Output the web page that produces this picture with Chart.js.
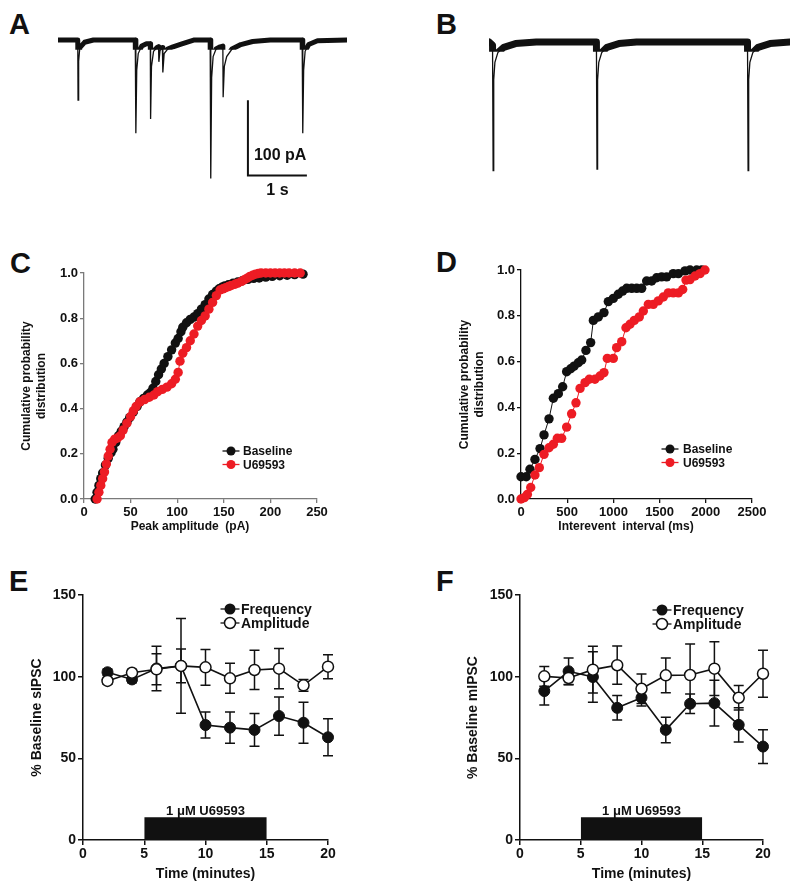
<!DOCTYPE html>
<html>
<head>
<meta charset="utf-8">
<script src="https://cdn.jsdelivr.net/npm/chart.js@4.4.0/dist/chart.umd.min.js"></script>
<style>
  body { margin: 0; width: 800px; height: 892px; background: #fff; position: relative; overflow: hidden; }
  .box { position: absolute; }
  .lbl { position: absolute; font-family: Arial, "Liberation Sans", sans-serif; font-weight: bold; font-size: 29px; line-height: 1; color: #111; }
</style>
</head>
<body>
<div class="lbl" style="left:9px;top:10px">A</div>
<div class="lbl" style="left:436px;top:10px">B</div>
<div class="lbl" style="left:10px;top:249px">C</div>
<div class="lbl" style="left:436px;top:248px">D</div>
<div class="lbl" style="left:9px;top:567px">E</div>
<div class="lbl" style="left:436px;top:567px">F</div>

<div class="box" style="left:58px;top:25px;width:289px;height:188px"><canvas id="chA"></canvas></div>
<div class="box" style="left:489px;top:27px;width:301px;height:188px"><canvas id="chB"></canvas></div>
<div class="box" style="left:0px;top:240px;width:340px;height:300px"><canvas id="chC"></canvas></div>
<div class="box" style="left:400px;top:240px;width:380px;height:300px"><canvas id="chD"></canvas></div>
<div class="box" style="left:0px;top:565px;width:360px;height:327px"><canvas id="chE"></canvas></div>
<div class="box" style="left:400px;top:565px;width:380px;height:327px"><canvas id="chF"></canvas></div>

<script>
const FONT = 'Arial, "Liberation Sans", sans-serif';
const RED = '#ed1c24';

// A: sIPSC trace, baseline (time s, current pA)
const traceAt = [0, 0.335, 0.34, 0.35, 0.37, 0.45, 0.6, 1.31, 1.32, 1.335, 1.36, 1.42, 1.5, 1.565, 1.57, 1.585, 1.62, 1.68, 1.705, 1.71, 1.73, 1.77, 1.775, 1.78, 1.8, 1.86, 1.95, 2.1, 2.3, 2.58, 2.59, 2.605, 2.63, 2.68, 2.75, 2.795, 2.8, 2.82, 2.86, 2.95, 3.1, 3.3, 3.6, 4.14, 4.15, 4.165, 4.19, 4.25, 4.4, 4.9];
const traceAi = [0, 0, -80, -28, -10, -3, 0, 0, -124, -40, -18, -8, -5, -5, -105, -35, -15, -10, -9, -29, -14, -10, -10, -43, -18, -12, -9, -5, 0, 0, -184, -50, -22, -12, -9, -8, -76, -35, -22, -12, -6, -2, 0, 0, -124, -40, -15, -6, -1, 0];
// B: trace after U69593
const traceBt = [0, 0.06, 0.07, 0.08, 0.1, 0.15, 0.25, 0.45, 0.8, 1.82, 1.83, 1.84, 1.86, 1.91, 2.0, 2.2, 2.5, 4.38, 4.39, 4.4, 4.42, 4.47, 4.56, 4.76, 5.1];
const traceBi = [0, -4, -171, -50, -27, -14, -7, -2, 0, 0, -169, -50, -27, -14, -7, -2, 0, 0, -171, -50, -27, -14, -7, -2, 0];

// C: cumulative peak amplitude (pA)
const ampBaseX = [12, 14, 16, 18, 20, 23, 26, 29, 31, 34, 37, 40, 43, 46, 49, 53, 57, 60, 64, 68, 71, 74, 77, 80, 83, 86, 90, 94, 98, 101, 104, 106, 110, 114, 118, 122, 126, 130, 134, 138, 142, 145, 148, 151, 155, 160, 165, 170, 176, 182, 188, 195, 202, 210, 218, 226, 235];
const ampBaseP = [0, 0.03, 0.06, 0.09, 0.115, 0.15, 0.18, 0.205, 0.22, 0.25, 0.28, 0.3, 0.32, 0.34, 0.36, 0.385, 0.41, 0.43, 0.445, 0.46, 0.47, 0.49, 0.52, 0.55, 0.575, 0.6, 0.63, 0.66, 0.69, 0.71, 0.74, 0.76, 0.78, 0.795, 0.805, 0.82, 0.84, 0.86, 0.885, 0.905, 0.92, 0.93, 0.937, 0.943, 0.948, 0.955, 0.96, 0.966, 0.972, 0.976, 0.978, 0.982, 0.985, 0.988, 0.99, 0.993, 0.995];
const ampDrugX = [14, 16, 18, 20, 22, 24, 26, 28, 30, 33, 36, 39, 42, 46, 50, 53, 56, 60, 65, 70, 75, 79, 84, 89, 94, 98, 101, 103, 106, 110, 114, 118, 122, 126, 130, 134, 138, 142, 146, 149, 152, 155, 158, 162, 165, 169, 172, 175, 178, 181, 184, 187, 190, 195, 200, 205, 210, 215, 220, 226, 232];
const ampDrugP = [0, 0.03, 0.06, 0.09, 0.12, 0.155, 0.19, 0.22, 0.25, 0.265, 0.27, 0.28, 0.305, 0.335, 0.365, 0.39, 0.41, 0.43, 0.44, 0.45, 0.46, 0.475, 0.485, 0.495, 0.51, 0.53, 0.56, 0.61, 0.645, 0.67, 0.7, 0.73, 0.765, 0.79, 0.81, 0.84, 0.87, 0.9, 0.925, 0.93, 0.935, 0.94, 0.945, 0.95, 0.955, 0.963, 0.97, 0.977, 0.985, 0.99, 0.995, 0.998, 1, 1, 1, 1, 1, 1, 1, 1, 1];

// D: cumulative interevent interval (ms)
const iviBaseX = [0, 57, 97, 151, 206, 249, 303, 350, 404, 451, 494, 538, 574, 620, 657, 703, 754, 783, 837, 898, 945, 999, 1053, 1100, 1144, 1198, 1252, 1306, 1360, 1414, 1468, 1522, 1576, 1648, 1703, 1775, 1829, 1901, 1955];
const iviBaseP = [0.097, 0.097, 0.13, 0.173, 0.22, 0.28, 0.35, 0.44, 0.46, 0.49, 0.556, 0.569, 0.58, 0.595, 0.607, 0.649, 0.683, 0.78, 0.795, 0.814, 0.862, 0.876, 0.894, 0.908, 0.92, 0.92, 0.92, 0.92, 0.952, 0.952, 0.966, 0.97, 0.97, 0.984, 0.984, 0.996, 1, 1, 1];
const iviDrugX = [0, 36, 69, 105, 151, 198, 249, 303, 350, 393, 440, 494, 548, 595, 639, 693, 739, 800, 855, 898, 934, 999, 1035, 1090, 1136, 1180, 1226, 1280, 1324, 1378, 1432, 1486, 1540, 1594, 1648, 1703, 1750, 1786, 1829, 1883, 1937, 1991];
const iviDrugP = [0, 0.006, 0.02, 0.05, 0.105, 0.137, 0.195, 0.224, 0.239, 0.265, 0.265, 0.314, 0.372, 0.42, 0.483, 0.508, 0.523, 0.523, 0.537, 0.552, 0.614, 0.614, 0.661, 0.687, 0.748, 0.763, 0.78, 0.795, 0.821, 0.85, 0.85, 0.865, 0.882, 0.9, 0.9, 0.9, 0.915, 0.956, 0.958, 0.974, 0.984, 1];

// E, F: time course (% baseline, mean +/- SEM)
const timeMin = [2, 4, 6, 8, 10, 12, 14, 16, 18, 20];
const sFreq = [102.7, 98.3, 105, 106.6, 70.4, 68.8, 67.4, 75.9, 71.8, 62.9];
const sFreqErr = [2, 2, 13.6, 29, 8, 9.5, 10, 11.7, 12.5, 11.3];
const sAmp = [97.4, 102.4, 104.5, 106.6, 105.7, 99, 104.1, 104.9, 94.7, 106.1];
const sAmpErr = [2, 2, 9.5, 10.4, 11, 9.2, 12, 12.3, 3.6, 7.3];
const mFreq = [91.2, 103.3, 99.8, 80.9, 87.1, 67.4, 83.4, 83.8, 70.5, 57.2];
const mFreqErr = [8.6, 8.2, 15.5, 7.5, 5, 7.8, 6, 14, 10.5, 10.3];
const mAmp = [100.2, 99.2, 104.3, 107, 92.6, 100.8, 101, 104.9, 87.1, 101.8];
const mAmpErr = [6, 4, 14.3, 11.7, 9, 10.7, 19, 16.5, 7.5, 14.4];
const drugOn = 5, drugOff = 15, drugBarTop = 14;
const drugLabel = '1 \u03bcM U69593';

Chart.defaults.font.family = FONT;
Chart.defaults.color = '#111';

const pts = (xs, ys) => xs.map((x, i) => ({ x: x, y: ys[i] }));

// thick part of a trace only near the baseline
const bandClip = {
  id: 'bandClip',
  beforeDatasetDraw(chart, args, opts) {
    if (args.index !== 1) return;
    const a = chart.chartArea, y = chart.scales.y.getPixelForValue(opts.level);
    chart.ctx.save();
    chart.ctx.beginPath();
    chart.ctx.rect(a.left - 5, a.top - 10, a.width + 10, y - a.top + 10);
    chart.ctx.clip();
  },
  afterDatasetDraw(chart, args) {
    if (args.index !== 1) return;
    chart.ctx.restore();
  }
};

const scaleBar = {
  id: 'scaleBar',
  afterDraw(chart, args, o) {
    if (!o.show) return;
    const { ctx, scales: { x, y } } = chart;
    const x0 = x.getPixelForValue(o.t), x1 = x.getPixelForValue(o.t + o.dt);
    const y0 = y.getPixelForValue(o.i), y1 = y.getPixelForValue(o.i - o.di);
    ctx.save();
    ctx.strokeStyle = '#111';
    ctx.lineWidth = 2;
    ctx.beginPath();
    ctx.moveTo(x0, y0); ctx.lineTo(x0, y1); ctx.lineTo(x1, y1);
    ctx.stroke();
    ctx.fillStyle = '#111';
    ctx.font = 'bold 16px ' + FONT;
    ctx.textAlign = 'left';
    ctx.textBaseline = 'alphabetic';
    ctx.fillText('100 pA', x0 + 6, (y0 + y1) / 2 + 22);
    ctx.textAlign = 'center';
    ctx.fillText('1 s', (x0 + x1) / 2, y1 + 20);
    ctx.restore();
  }
};

function traceChart(id, ts, is, tmax, band, bar) {
  const d = pts(ts, is);
  new Chart(document.getElementById(id), {
    type: 'line',
    data: {
      datasets: [
        { data: d, borderColor: '#111', borderWidth: 1.3, pointRadius: 0, tension: 0, clip: false },
        { data: d, borderColor: '#111', borderWidth: band, borderJoinStyle: 'round', borderCapStyle: 'round',
          pointRadius: 0, tension: 0, clip: false }
      ]
    },
    options: {
      animation: false, responsive: true, maintainAspectRatio: false,
      layout: { padding: 0 },
      plugins: { legend: { display: false }, tooltip: { enabled: false }, bandClip: { level: -13 }, scaleBar: bar },
      scales: {
        x: { type: 'linear', min: 0, max: tmax, display: false },
        y: { min: -230, max: 20, display: false }
      }
    },
    plugins: [bandClip, scaleBar]
  });
}

const keyPlugin = {
  id: 'key',
  afterDraw(chart, args, o) {
    const { ctx, chartArea: a } = chart;
    ctx.save();
    if (o.title) {
      ctx.fillStyle = '#111';
      ctx.font = 'bold 12px ' + FONT;
      ctx.textAlign = 'center';
      ctx.textBaseline = 'middle';
      ctx.fillText(o.title, a.left + o.titleDx, a.bottom + o.titleDy);
    }
    (o.items || []).forEach((it, k) => {
      const cx = a.left + o.dx, cy = a.top + o.dy + k * o.gap;
      ctx.strokeStyle = it.line;
      ctx.lineWidth = 1.3;
      ctx.beginPath(); ctx.moveTo(cx - o.r - 4, cy); ctx.lineTo(cx + o.r + 4, cy); ctx.stroke();
      ctx.beginPath(); ctx.arc(cx, cy, o.r, 0, Math.PI * 2);
      ctx.fillStyle = it.fill; ctx.fill();
      if (it.border) { ctx.lineWidth = 1.5; ctx.strokeStyle = it.border; ctx.stroke(); }
      ctx.fillStyle = '#111';
      ctx.font = 'bold ' + o.fs + 'px ' + FONT;
      ctx.textBaseline = 'middle';
      ctx.textAlign = 'left';
      ctx.fillText(it.text, cx + o.tx, cy + 1);
    });
    ctx.restore();
  }
};

function axis(o) {
  return {
    type: 'linear', min: o.min, max: o.max,
    afterFit: s => { if (s.isHorizontal()) s.height = o.size; else s.width = o.size; },
    border: { color: o.color, width: o.bw },
    grid: { drawOnChartArea: false, drawTicks: true, tickLength: o.tl, color: o.color, lineWidth: o.bw },
    ticks: { stepSize: o.step, color: '#111', padding: o.pad, maxRotation: 0, autoSkip: false,
      font: { family: FONT, size: o.fs, weight: 'bold' }, callback: o.cb || (v => v) },
    title: { display: !!o.title, text: o.title || '', color: '#111', padding: o.tpad,
      font: { family: FONT, size: o.tfs, weight: 'bold', lineHeight: 1.2 } }
  };
}

function cdfChart(id, xb, pb, xd, pd, xmax, xstep, axColor, pad, ytpad, key) {
  new Chart(document.getElementById(id), {
    type: 'line',
    data: {
      datasets: [
        { label: 'U69593', data: pts(xd, pd), borderColor: RED, backgroundColor: RED, borderWidth: 1,
          pointRadius: 4.7, pointBorderWidth: 0, pointBackgroundColor: RED, tension: 0, clip: false },
        { label: 'Baseline', data: pts(xb, pb), borderColor: '#111', backgroundColor: '#111', borderWidth: 1,
          pointRadius: 4.7, pointBorderWidth: 0, pointBackgroundColor: '#111', tension: 0, clip: false }
      ]
    },
    options: {
      animation: false, responsive: true, maintainAspectRatio: false,
      layout: { padding: pad },
      plugins: { legend: { display: false }, tooltip: { enabled: false }, key: key },
      scales: {
        x: axis({ min: 0, max: xmax, step: xstep, size: 41, color: axColor, bw: 1.3, tl: 4, pad: 2, fs: 13 }),
        y: axis({ min: 0, max: 1, step: 0.2, size: pad.yw, color: axColor, bw: 1.3, tl: 4, pad: 2, fs: 13,
          cb: v => v.toFixed(1), title: ['Cumulative probability', 'distribution'], tfs: 12, tpad: { top: ytpad, bottom: 0 } })
      }
    },
    plugins: [keyPlugin]
  });
}

const errPlugin = {
  id: 'errBars',
  beforeDatasetsDraw(chart) {
    const { ctx, scales: { x, y } } = chart;
    ctx.save();
    ctx.strokeStyle = '#111';
    ctx.lineWidth = 1.5;
    chart.data.datasets.forEach(ds => {
      if (!ds.errors) return;
      ds.data.forEach((p, i) => {
        const px = x.getPixelForValue(p.x);
        const hi = y.getPixelForValue(p.y + ds.errors[i]), lo = y.getPixelForValue(p.y - ds.errors[i]);
        ctx.beginPath();
        ctx.moveTo(px, hi); ctx.lineTo(px, lo);
        ctx.moveTo(px - 5, hi); ctx.lineTo(px + 5, hi);
        ctx.moveTo(px - 5, lo); ctx.lineTo(px + 5, lo);
        ctx.stroke();
      });
    });
    ctx.restore();
  },
  afterDraw(chart) {
    const { ctx, scales: { x, y } } = chart;
    ctx.save();
    ctx.fillStyle = '#111';
    ctx.font = 'bold 13px ' + FONT;
    ctx.textAlign = 'center';
    ctx.textBaseline = 'alphabetic';
    ctx.fillText(drugLabel, x.getPixelForValue((drugOn + drugOff) / 2), y.getPixelForValue(drugBarTop) - 2);
    ctx.restore();
  }
};

function timeChart(id, freq, freqErr, amp, ampErr, ytitle, pad, ytpad, key) {
  new Chart(document.getElementById(id), {
    type: 'line',
    data: {
      datasets: [
        { label: 'Amplitude', data: pts(timeMin, amp), errors: ampErr, borderColor: '#111', borderWidth: 1.6,
          pointRadius: 5.5, pointBorderWidth: 1.5, pointBorderColor: '#111', pointBackgroundColor: '#fff', tension: 0, clip: false },
        { label: 'Frequency', data: pts(timeMin, freq), errors: freqErr, borderColor: '#111', borderWidth: 1.6,
          pointRadius: 5.5, pointBorderWidth: 1, pointBorderColor: '#111', pointBackgroundColor: '#111', tension: 0, clip: false },
        { label: 'drug', data: [{ x: drugOn, y: drugBarTop }, { x: drugOff, y: drugBarTop }], borderWidth: 0,
          pointRadius: 0, fill: 'origin', backgroundColor: '#111', borderColor: '#111', tension: 0 }
      ]
    },
    options: {
      animation: false, responsive: true, maintainAspectRatio: false,
      layout: { padding: pad },
      plugins: { legend: { display: false }, tooltip: { enabled: false }, filler: { propagate: false }, key: key },
      scales: {
        x: axis({ min: 0, max: 20, step: 5, size: 52, color: '#111', bw: 1.5, tl: 5, pad: 1, fs: 14,
          title: 'Time (minutes)', tfs: 14, tpad: { top: 0, bottom: 9 } }),
        y: axis({ min: 0, max: 150, step: 50, size: pad.yw, color: '#111', bw: 1.5, tl: 5, pad: 2, fs: 14,
          title: ytitle, tfs: 14, tpad: { top: ytpad, bottom: 0 } })
      }
    },
    plugins: [errPlugin, keyPlugin]
  });
}

traceChart('chA', traceAt, traceAi, 4.9, 5, { show: true, t: 3.22, dt: 1, i: -80, di: 100 });
traceChart('chB', traceBt, traceBi, 5.1, 7, { show: false });

cdfChart('chC', ampBaseX, ampBaseP, ampDrugX, ampDrugP, 250, 50, '#7a7a7a',
  { top: 33, right: 23, left: 0, bottom: 0, yw: 84 }, 19.8,
  { dx: 147, dy: 178, gap: 13.5, r: 4.5, fs: 12, tx: 12, title: 'Peak amplitude  (pA)', titleDx: 106, titleDy: 28,
    items: [{ text: 'Baseline', fill: '#111', line: '#111' }, { text: 'U69593', fill: RED, line: RED }] });
cdfChart('chD', iviBaseX, iviBaseP, iviDrugX, iviDrugP, 2500, 500, '#111',
  { top: 30, right: 28, left: 0, bottom: 0, yw: 121 }, 57.8,
  { dx: 149, dy: 179, gap: 13.5, r: 4.5, fs: 12, tx: 13, title: 'Interevent  interval (ms)', titleDx: 105, titleDy: 28,
    items: [{ text: 'Baseline', fill: '#111', line: '#111' }, { text: 'U69593', fill: RED, line: RED }] });

timeChart('chE', sFreq, sFreqErr, sAmp, sAmpErr, '% Baseline sIPSC',
  { top: 30, right: 32, left: 0, bottom: 0, yw: 83 }, 28.6,
  { dx: 147, dy: 14, gap: 14, r: 5.5, fs: 14, tx: 11,
    items: [{ text: 'Frequency', fill: '#111', line: '#111' }, { text: 'Amplitude', fill: '#fff', border: '#111', line: '#111' }] });
timeChart('chF', mFreq, mFreqErr, mAmp, mAmpErr, '% Baseline mIPSC',
  { top: 30, right: 17, left: 0, bottom: 0, yw: 120 }, 64.6,
  { dx: 142, dy: 15, gap: 14, r: 5.5, fs: 14, tx: 11,
    items: [{ text: 'Frequency', fill: '#111', line: '#111' }, { text: 'Amplitude', fill: '#fff', border: '#111', line: '#111' }] });
</script>
</body>
</html>
